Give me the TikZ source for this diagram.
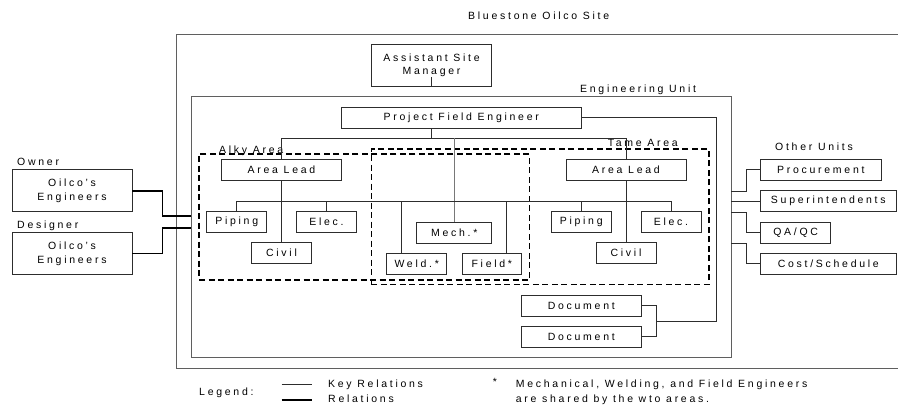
\documentclass[tikz,border=0pt]{standalone}
\usepackage{fontspec}
\setmainfont{Liberation Sans}[LetterSpace=26]
\usetikzlibrary{positioning}
\definecolor{bordercolor}{RGB}{45,45,45}
\definecolor{framegray}{RGB}{95,95,95}
\definecolor{keygray}{RGB}{120,120,120}
\tikzset{
  base/.style   = {draw=bordercolor, line width=0.8pt, align=center, inner sep=0pt,
                   font=\fontsize{10.5}{12.5}\selectfont},
  unit/.style   = {base, minimum height=21pt},
  pair/.style   = {base, minimum height=42pt, font=\fontsize{10.5}{14}\selectfont},
  frame/.style  = {draw=framegray, line width=0.8pt},
  area/.style   = {draw=black, line width=1.6pt, dash pattern=on 6pt off 3.5pt, inner sep=0pt},
  tag/.style    = {inner sep=0pt, anchor=base west, font=\fontsize{10.5}{12}\selectfont},
  keyrel/.style = {draw=bordercolor, line width=0.8pt},
  rel/.style    = {draw=black, line width=1.6pt},
}

\begin{document}
\begin{tikzpicture}[x=1pt, y=-1pt]
  \useasboundingbox (0,0) rectangle (898,408);

  % Site
  \draw[frame] (898,34) -- (176.3,34) -- (176.3,368.3) -- (898,368.3);
  \node[tag] (sitetag) at (468,19) {Bluestone Oilco Site};
  \node[pair, minimum width=120.4pt, font=\fontsize{10.5}{12.5}\selectfont] (asm) at (431.5,65.3) {Assistant Site\\Manager};
  \draw[keyrel] (asm.south) -- ++(0,-10);

  % Engineering unit
  \node[base, draw=framegray, minimum width=539.3pt, minimum height=261pt] (engunit) at (461.35,227.2) {};
  \node[tag] (unittag) at (580,92.7) {Engineering Unit};
  \node[unit, minimum width=239.3pt] (pfe) at (461.3,117.5) {Project Field Engineer};

  % Areas
  \node[area, minimum width=330.3pt, minimum height=125.7pt] (alky) at (364.15,216.85) {};
  \node[area, minimum width=337.7pt, minimum height=135.5pt] (tame) at (540.15,216.75) {};
  \node[tag] (alkytag) at (219,153.5) {Alky Area};
  \node[tag] (tametag) at (607.7,146) {Tame Area};

  % Leads
  \node[unit, minimum width=120.4pt] (alkylead) at (281.5,169.8) {Area Lead};
  \node[unit, minimum width=120pt] (tamelead) at (626,169.8) {Area Lead};

  % Alky engineers
  \node[unit, minimum width=60pt] (alkypiping) at (236.7,222) {Piping};
  \node[unit, minimum width=60.4pt] (alkyelec) at (326.5,222) {Elec.};
  \node[unit, minimum width=60.4pt] (alkycivil) at (281.5,253.2) {Civil};

  % Shared engineers
  \node[unit, minimum width=75pt] (mech) at (454.2,232.7) {Mech.*};
  \node[unit, minimum width=60pt] (weld) at (416.7,264) {Weld.*};
  \node[unit, minimum width=59.7pt] (field) at (491.8,264) {Field*};

  % Tame engineers
  \node[unit, minimum width=60.3pt] (tamepiping) at (581.2,222) {Piping};
  \node[unit, minimum width=60pt] (tameelec) at (671,222) {Elec.};
  \node[unit, minimum width=60pt] (tamecivil) at (626,253.2) {Civil};

  % Documents
  \node[unit, minimum width=120.7pt] (doc1) at (581.3,305.8) {Document};
  \node[unit, minimum width=120.7pt] (doc2) at (581.3,336.8) {Document};

  % Owner and designer
  \node[tag] (ownertag) at (17,165.7) {Owner};
  \node[pair, minimum width=120pt] (owner) at (72,190.7) {Oilco's\\Engineers};
  \node[tag] (designertag) at (17,228.3) {Designer};
  \node[pair, minimum width=120pt] (designer) at (72,253.3) {Oilco's\\Engineers};

  % Other units
  \node[tag] (othertag) at (775,150.7) {Other Units};
  \node[unit, minimum width=120.3pt] (procure) at (820.8,169.8) {Procurement};
  \node[unit, minimum width=135.3pt, minimum height=20.3pt] (super) at (828.3,200.8) {Superintendents};
  \node[unit, minimum width=70pt] (qaqc) at (795.7,232.7) {QA/QC};
  \node[unit, minimum width=135.3pt] (costsched) at (828.3,263.5) {Cost/Schedule};

  % Key relations
  \coordinate (branch) at (0,138);
  \coordinate (bus) at (0,201);
  \coordinate (weldtop) at ([xshift=-15pt]weld.north);
  \coordinate (fieldtop) at ([xshift=15pt]field.north);
  \draw[keyrel] (pfe.south -| asm.south) -- (asm.south |- branch);
  \draw[keyrel] (alkylead.north) -- (alkylead.north |- branch) -- (tamelead.north |- branch) -- (tamelead.north);
  \draw[keyrel, draw=keygray] (mech.north) -- (mech.north |- branch);
  \draw[keyrel] (alkypiping.north) -- (alkypiping.north |- bus) -- (tameelec.north |- bus) -- (tameelec.north);
  \draw[keyrel] (alkylead.south) -- (alkycivil.north);
  \draw[keyrel] (alkyelec.north) -- (alkyelec.north |- bus);
  \draw[keyrel] (weldtop) -- (weldtop |- bus);
  \draw[keyrel] (fieldtop) -- (fieldtop |- bus);
  \draw[keyrel] (tamepiping.north) -- (tamepiping.north |- bus);
  \draw[keyrel] (tamelead.south) -- (tamecivil.north);

  % Documents
  \coordinate (docjoin) at (656.7,321);
  \coordinate (docrail) at (716,321);
  \draw[keyrel] (doc1.east) -| (docjoin) |- (doc2.east);
  \draw[keyrel] (pfe.east) -| (docrail) -- (docjoin);

  % Relations
  \coordinate (ownerin) at ([yshift=11.5pt]engunit.west);
  \coordinate (designerin) at ([yshift=-0.5pt]engunit.west);
  \draw[rel] (owner.east) -- ++(30,0) |- (ownerin);
  \draw[rel] (designer.east) -- ++(30,0) |- (designerin);
  \coordinate (out1) at ([yshift=36.2pt]engunit.east);
  \coordinate (out2) at ([yshift=26.2pt]engunit.east);
  \coordinate (out3) at ([yshift=14.9pt]engunit.east);
  \coordinate (out4) at ([yshift=-15.8pt]engunit.east);
  \draw[keyrel] (out1) -- ++(15,0) |- (procure.west);
  \draw[keyrel] (out2) -- (out2 -| super.west);
  \draw[keyrel] (out3) -- ++(15,0) |- (qaqc.west);
  \draw[keyrel] (out4) -- ++(15,0) |- (costsched.west);

  % Legend
  \node[tag] (legend) at (199,395) {Legend:};
  \node[tag] (keytag) at (328,387.7) {Key Relations};
  \node[tag] (reltag) at (328,402.7) {Relations};
  \draw[keyrel] (281.7,384.3) -- (311.7,384.3);
  \draw[rel] (281.7,400) -- (311.7,400);
  \node[tag] (star) at (492.7,385) {*};
  \node[tag] (note1) at (515.7,387.7) {Mechanical, Welding, and Field Engineers};
  \node[tag] (note2) at (515.7,402.7) {are shared by the wto areas.};
\end{tikzpicture}
\end{document}
